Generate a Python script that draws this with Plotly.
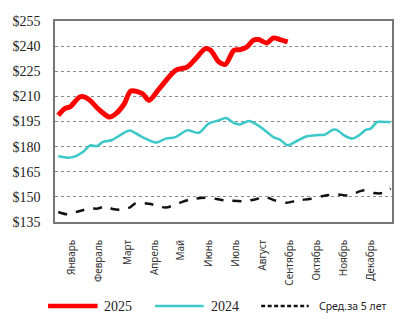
import plotly.graph_objects as go

# weeks (x) and prices (y)
w2025 = [0.5, 1.5, 2.3, 3.8, 4.6, 5.4, 6.9, 8.4, 9.4, 10.7, 11.7, 13.5, 14.5, 16.1,
         18.6, 20.4, 21.7, 23.2, 24.0, 25.3, 26.3, 27.6, 28.6, 29.6, 30.6, 31.4,
         32.7, 33.7, 34.7, 35.9]
v2025 = [198.7, 202.7, 203.7, 209.6, 209.6, 207.6, 201.7, 197.7, 199.7, 205.6, 213.2,
         211.6, 207.6, 214.6, 225.5, 227.5, 232.5, 238.5, 237.5, 230.5, 229.1, 237.5,
         237.9, 239.5, 243.5, 243.9, 241.9, 244.9, 243.9, 242.5]

w2024 = [0.5, 2.0, 3.1, 4.3, 5.5, 6.4, 7.4, 8.7, 10.0, 11.5, 13.0, 14.3, 15.6, 17.1,
         18.6, 20.4, 22.2, 23.7, 25.3, 26.4, 27.6, 28.6, 29.9, 30.9, 32.4, 33.7,
         34.7, 35.9, 37.5, 39.0, 40.6, 41.6, 42.9, 43.6, 44.6, 45.9, 46.9, 48.0,
         48.7, 49.7, 50.8, 51.8]
v2024 = [174.2, 173.4, 174.2, 176.8, 180.8, 180.2, 182.8, 183.8, 186.7, 189.7, 186.7,
         184.2, 182.4, 184.8, 185.7, 189.7, 188.3, 193.7, 195.7, 197.1, 194.1, 193.3,
         195.3, 193.7, 189.7, 185.7, 184.2, 180.8, 183.8, 186.3, 186.9, 187.1, 190.1,
         189.7, 186.7, 184.8, 186.7, 190.1, 190.7, 194.7, 194.7, 194.7]

w5yr = [0.5, 2.0, 3.8, 5.4, 6.6, 7.7, 8.9, 10.5, 11.5, 12.5, 14.5, 17.1, 18.6, 20.7,
        23.0, 24.7, 26.3, 29.3, 30.9, 32.4, 33.9, 35.7, 37.5, 39.5, 41.6, 43.6,
        45.2, 47.7, 49.2, 50.5, 51.8]
v5yr = [141.0, 139.6, 141.6, 143.0, 143.0, 144.4, 142.8, 142.4, 143.6, 146.3, 145.9,
        143.6, 145.5, 148.3, 149.5, 148.9, 147.9, 147.5, 148.5, 149.9, 147.9, 146.5,
        147.9, 148.9, 150.7, 151.5, 150.9, 153.9, 152.3, 152.3, 154.9]

months = ["Январь", "Февраль", "Март", "Апрель", "Май", "Июнь", "Июль", "Август",
          "Сентябрь", "Октябрь", "Ноябрь", "Декабрь"]
month_pos = [2.6, 6.8, 11.2, 15.4, 19.4, 23.7, 27.9, 32.1, 36.2, 40.4, 44.6, 48.7]
y_ticks = [135, 150, 165, 180, 195, 210, 225, 240, 255]
y_labels = ["$" + str(v) for v in y_ticks]

fig = go.Figure()
fig.add_trace(go.Scatter(x=w5yr, y=v5yr, mode="lines", name="Сред.за 5 лет",
                         line=dict(color="#111111", width=2.5, dash="dash", shape="spline", smoothing=0.8)))
fig.add_trace(go.Scatter(x=w2024, y=v2024, mode="lines", name="2024",
                         line=dict(color="#3cc8c8", width=2.5, shape="spline", smoothing=0.8)))
fig.add_trace(go.Scatter(x=w2025, y=v2025, mode="lines", name="2025",
                         line=dict(color="#ff0000", width=5, shape="spline", smoothing=0.8)))

fig.update_layout(
    width=407, height=323,
    margin=dict(l=52, r=15, t=21, b=101),
    paper_bgcolor="white", plot_bgcolor="white",
    showlegend=False,
    xaxis=dict(range=[0, 52], tickvals=month_pos, ticktext=months, tickangle=-90,
               tickfont=dict(family="Noto Sans", size=10, color="#333333"),
               ticks="outside", ticklen=12, tickcolor="rgba(0,0,0,0)",
               showgrid=False, zeroline=False,
               showline=True, linecolor="#777777", linewidth=1.5, mirror=True),
    yaxis=dict(range=[135, 255], tickvals=y_ticks, ticktext=y_labels,
               tickfont=dict(family="Liberation Serif", size=14, color="#222222"),
               ticks="outside", ticklen=10, tickcolor="rgba(0,0,0,0)",
               showgrid=True, gridcolor="#8a8a8a", gridwidth=1, griddash="dot",
               zeroline=False,
               showline=True, linecolor="#777777", linewidth=1.5, mirror=True),
)

# manual legend below the plot
def px2paper_x(px):
    return (px - 52) / 340.0

def py2paper_y(py):
    return (222 - py) / 201.0

ly = py2paper_y(306)
legend_items = [
    (45, 95, "#ff0000", 4.5, "solid", 99, "2025", "Liberation Serif", 14),
    (153, 202, "#3cc8c8", 2.5, "solid", 207, "2024", "Liberation Serif", 14),
    (260, 308, "#111111", 2.5, "4px,2.5px", 316, "Сред.за 5 лет", "Noto Sans", 10.5),
]
for x0, x1, col, wd, dash, tx, label, fam, fs in legend_items:
    fig.add_shape(type="line", xref="paper", yref="paper",
                  x0=px2paper_x(x0), x1=px2paper_x(x1), y0=ly, y1=ly,
                  line=dict(color=col, width=wd, dash=dash))
    fig.add_annotation(xref="paper", yref="paper", x=px2paper_x(tx), y=ly,
                       text=label, showarrow=False, xanchor="left", yanchor="middle",
                       font=dict(family=fam, size=fs, color="#222222"))

fig.write_html("out.html")
